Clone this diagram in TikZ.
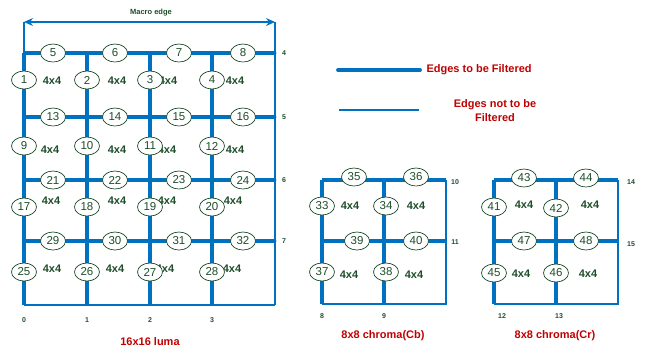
\documentclass[tikz,border=0pt]{standalone}
\usepackage{fontspec}
\setmainfont{Liberation Sans}
\usetikzlibrary{arrows.meta,shapes.geometric}
\definecolor{eblue}{HTML}{0070C0}
\definecolor{dgreen}{HTML}{1E4D2B}
\definecolor{dred}{HTML}{C00000}
\begin{document}
\begin{tikzpicture}[x=1pt,y=-1pt,
  thk/.style={eblue,line width=3.8pt},
  thn/.style={eblue,line width=1.5pt},
  en/.style={ellipse,draw=dgreen,fill=white,line width=0.7pt,minimum width=25pt,minimum height=18pt,inner sep=0pt,text=dgreen,font=\fontsize{11.5}{13}\selectfont},
  blk/.style={text=dgreen,font=\bfseries\fontsize{11}{13}\selectfont},
  tick/.style={text=dgreen,font=\bfseries\fontsize{7}{8}\selectfont},
  rlab/.style={text=dred,font=\bfseries\fontsize{11}{13}\selectfont,align=center},
]
\useasboundingbox (0,0) rectangle (646,349);
% ===== Luma =====
\coordinate (L0t) at (24,22); \coordinate (L4t) at (275,22);
\coordinate (Lbl) at (24,305); \coordinate (Lbr) at (275,305);
\draw[thn] (L0t) -- (24,53);
\draw[thn] (L4t) -- (Lbr);
\draw[thn] (Lbl) -- (Lbr);
\draw[eblue,line width=1.2pt,{Stealth[length=9pt,width=8pt]}-{Stealth[length=9pt,width=8pt]}] (24,22) -- (275,22);
\node[text=dgreen,font=\bfseries\fontsize{7.5}{9}\selectfont] (macro) at (151,13) {Macro edge};
\foreach \y in {53,117,180,241} \draw[thk] (24,\y) -- (275,\y);
\foreach \x in {24,87,150,212} \draw[thk] (\x,53) -- (\x,305);
\foreach \y/\t in {53/4,117/5,180/6,241/7} {
  \fill[eblue] (275,\y) circle (1.6pt);
  \node[tick] (lt\t) at (284,\y) {\t};
}
\foreach \x/\t in {24/0,87/1,150/2,212/3} \node[tick] (lb\t) at (\x,320) {\t};
% 4x4 labels
\foreach \x/\y [count=\i] in {52/81,117/81,168/81,235/81,50/150,117/150,167/150,235/150,51/201,117/201,167/201,233/201,52/269,115/269,165/269,232/269}
  \node[blk] (lq\i) at (\x,\y) {4x4};
% ellipses
\foreach \n/\x/\y in {5/53/53,6/115/53,7/179/53,8/243/53,
  1/24/80,2/87/80,3/150/80,4/212/80,
  13/53/117,14/115/117,15/179/117,16/243/117,
  9/24/146,10/87/146,11/150/146,12/212/146,
  21/53/180,22/115/180,23/179/180,24/243/180,
  17/24/207,18/87/207,19/150/207,20/212/207,
  29/53/241,30/115/241,31/179/241,32/243/241,
  25/24/272,26/87/272,27/150/272,28/212/272}
  \node[en] (e\n) at (\x,\y) {\n};
\node[rlab] (luma) at (150,342) {16x16 luma};
% ===== Legend =====
\coordinate (g1a) at (338,70); \coordinate (g1b) at (420,70);
\coordinate (g2a) at (339,110); \coordinate (g2b) at (419,110);
\draw[thk,line cap=round] (g1a) -- (g1b);
\draw[thn] (g2a) -- (g2b);
\node[rlab,anchor=west] (leg1) at (423,70) {Edges to be Filtered};
\node[rlab] (leg2) at (495,111) {Edges not to be\\[1pt]Filtered};
% ===== Cb =====
\draw[thn] (446,180) -- (446,304) -- (322,304);
\foreach \y in {180,241} \draw[thk] (322,\y) -- (446,\y);
\foreach \x in {322,384} \draw[thk] (\x,180) -- (\x,304);
\node[tick] (t10) at (455,182) {10};
\node[tick] (t11) at (455,242) {11};
\node[tick] (t8) at (322,316) {8};
\node[tick] (t9) at (384,316) {9};
\foreach \x/\y [count=\i] in {350/206,416/206,349/275,414/275}
  \node[blk] (cbq\i) at (\x,\y) {4x4};
\foreach \n/\x/\y in {35/354/177,36/416/177,33/322/206,34/386/206,39/357/241,40/416/241,37/322/272,38/386/272}
  \node[en] (e\n) at (\x,\y) {\n};
\node[rlab] (cb) at (383,336) {8x8 chroma(Cb)};
% ===== Cr =====
\draw[thn] (618,180) -- (618,304) -- (494,304);
\foreach \y in {180,241} \draw[thk] (494,\y) -- (618,\y);
\foreach \x in {494,556} \draw[thk] (\x,180) -- (\x,304);
\node[tick] (t14) at (631,182) {14};
\node[tick] (t15) at (631,244) {15};
\node[tick] (t12) at (502,316) {12};
\node[tick] (t13) at (559,316) {13};
\foreach \x/\y [count=\i] in {524/205,590/205,521/274,588/274}
  \node[blk] (crq\i) at (\x,\y) {4x4};
\foreach \n/\x/\y in {43/524/178,44/586/178,41/494/207,42/556/208,47/524/241,48/586/241,45/494/273,46/556/273}
  \node[en] (e\n) at (\x,\y) {\n};
\node[rlab] (cr) at (555,336) {8x8 chroma(Cr)};
\end{tikzpicture}
\end{document}
